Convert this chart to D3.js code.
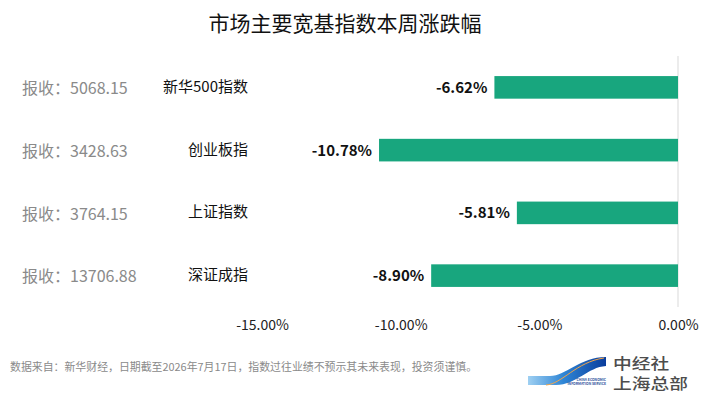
<!DOCTYPE html>
<html><head><meta charset="utf-8">
<script src="https://cdn.jsdelivr.net/npm/d3@7/dist/d3.min.js"></script>
<style>
html,body{margin:0;padding:0;background:#fff;}
svg{display:block;font-family:"Microsoft YaHei","Noto Sans CJK SC",sans-serif;}
</style></head>
<body>
<svg id="chart" width="707" height="408"></svg>
<script>
const categories = ["新华500指数", "创业板指", "上证指数", "深证成指"];
const changes = [-6.62, -10.78, -5.81, -8.90];
const closes = ["5068.15", "3428.63", "3764.15", "13706.88"];
const tickValues = [-15, -10, -5, 0];
const title = "市场主要宽基指数本周涨跌幅";
const footnote = "数据来自：新华财经，日期截至2026年7月17日，指数过往业绩不预示其未来表现，投资须谨慎。";

const svg = d3.select("#chart");
const x = d3.scaleLinear().domain([-15, 0]).range([262, 678]);
const y = d3.scaleBand().domain(categories).range([56, 307]).paddingInner(0.64).paddingOuter(0.32);
const fmt = v => v.toFixed(2) + "%";

svg.append("text").attr("x", 345).attr("y", 31).attr("text-anchor", "middle")
  .attr("font-size", 21).attr("fill", "#111").text(title);

// axis line at zero
svg.append("line").attr("x1", x(0)).attr("x2", x(0)).attr("y1", 56).attr("y2", 307)
  .attr("stroke", "#d9d9d9").attr("stroke-width", 1);

const rows = categories.map((c, i) => ({c, v: changes[i], close: closes[i]}));

svg.selectAll("rect.bar").data(rows).join("rect").attr("class", "bar")
  .attr("x", d => x(d.v)).attr("y", d => y(d.c))
  .attr("width", d => x(0) - x(d.v)).attr("height", y.bandwidth())
  .attr("fill", "#18a67e");

svg.selectAll("text.val").data(rows).join("text").attr("class", "val")
  .attr("x", d => x(d.v) - 7).attr("y", d => y(d.c) + y.bandwidth() / 2)
  .attr("dy", "0.36em").attr("text-anchor", "end")
  .attr("font-size", 15).attr("font-weight", "bold").attr("fill", "#111")
  .text(d => fmt(d.v));

svg.selectAll("text.cat").data(rows).join("text").attr("class", "cat")
  .attr("x", 248).attr("y", d => y(d.c) + y.bandwidth() / 2 - 1)
  .attr("dy", "0.36em").attr("text-anchor", "end")
  .attr("font-size", 15).attr("fill", "#111").text(d => d.c);

svg.selectAll("text.close").data(rows).join("text").attr("class", "close")
  .attr("x", 22).attr("y", d => y(d.c) + y.bandwidth() / 2 + 1)
  .attr("dy", "0.36em").attr("text-anchor", "start")
  .attr("font-size", 16).attr("fill", "#8a8a8a").text(d => "报收：" + d.close);

// x axis ticks
const axis = d3.axisBottom(x).tickValues(tickValues).tickFormat(fmt).tickSize(0).tickPadding(0);
const ag = svg.append("g").attr("transform", "translate(0,320)").call(axis);
ag.select(".domain").remove();
ag.selectAll("text").attr("font-size", 14).attr("fill", "#222")
  .attr("font-family", "\"Microsoft YaHei\",\"Noto Sans CJK SC\",sans-serif");

svg.append("text").attr("x", 10).attr("y", 367).attr("dy", "0.36em")
  .attr("font-size", 10.9).attr("fill", "#8a8a8a").text(footnote);

// logo
const defs = svg.append("defs");
const g1 = defs.append("linearGradient").attr("id", "lg1").attr("x1", "0").attr("x2", "1").attr("y1", "0").attr("y2", "0");
g1.append("stop").attr("offset", "0").attr("stop-color", "#9fd0f2");
g1.append("stop").attr("offset", "0.45").attr("stop-color", "#2f86d6");
g1.append("stop").attr("offset", "1").attr("stop-color", "#0a3d9c");
const lg = svg.append("g");
lg.append("path").attr("d", "M528,376 L550,376 C566,376 580,357 606,357 L606,366 C588,367 576,385 556,385 L528,385 Z")
  .attr("fill", "url(#lg1)");
lg.append("path").attr("d", "M546,385 C562,384 576,362 604,358").attr("fill", "none")
  .attr("stroke", "#f2a54a").attr("stroke-width", 1);
lg.append("text").attr("x", 606).attr("y", 381).attr("text-anchor", "end").attr("font-size", 3.4)
  .attr("font-weight", "bold").attr("fill", "#2a4f9a").text("CHINA ECONOMIC");
lg.append("text").attr("x", 606).attr("y", 385).attr("text-anchor", "end").attr("font-size", 3.4)
  .attr("font-weight", "bold").attr("fill", "#2a4f9a").text("INFORMATION SERVICE");
lg.append("text").attr("transform", "translate(613,369) scale(1.25,1)").attr("font-size", 15)
  .attr("font-weight", 500).attr("fill", "#4d4d4d").text("中经社");
lg.append("text").attr("transform", "translate(613,389) scale(1.25,1)").attr("font-size", 15)
  .attr("font-weight", 500).attr("fill", "#4d4d4d").text("上海总部");
</script>
</body></html>
